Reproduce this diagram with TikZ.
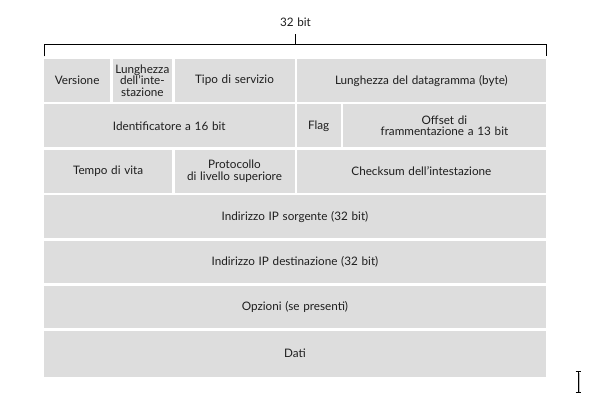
\documentclass[tikz,border=0pt]{standalone}
\usepackage{fontspec}
\setmainfont[WordSpace=1.25]{Lato}
\definecolor{fieldgray}{RGB}{221,221,221}
\definecolor{inkgray}{RGB}{30,30,30}
\tikzset{
  labelfont/.style={font=\fontsize{11.7}{11.4}\selectfont},
  field/.style={shape=rectangle, fill=fieldgray, draw=none, inner sep=0pt,
    outer sep=0pt, align=center, text=inkgray, labelfont},
  bracketline/.style={draw=black, line width=0.9pt},
  beam/.style={draw=black, line width=0.9pt},
  beamshadow/.style={draw=black!25, line width=0.9pt}
}
% \fieldbox{name}{x1}{y1}{x2}{y2}{text}: a grey header field between two corners
\newcommand\fieldbox[6]{%
  \node[field, minimum width={(#4)-(#2)}, minimum height={(#5)-(#3)}]
    (#1) at ({((#2)+(#4))/2},{((#3)+(#5))/2}) {#6};}
\begin{document}
\begin{tikzpicture}[x=1pt,y=-1pt]
\useasboundingbox[fill=white] (0,0) rectangle (591,401);

% width bracket
\coordinate (bl) at (44.5,56.5);
\coordinate (bltop) at (44.5,44.5);
\coordinate (brtop) at (546,44.5);
\coordinate (br) at (546,56.5);
\coordinate (bmid) at (295.5,44.5);
\node[labelfont, text=inkgray, inner sep=1pt] (width) at (295.5,22.5) {32 bit};
\draw[bracketline] (bl) -- (bltop) -- (brtop) -- (br);
\draw[bracketline] (bmid) -- ++(0,-10.5);

% row 1
\fieldbox{ver}{44}{59}{110.2}{102.2}{Versione}
\fieldbox{ihl}{112.5}{59}{172.2}{102.2}{Lunghezza\\dell'inte-\\stazione}
\fieldbox{tos}{174.5}{59}{294.5}{102.2}{Tipo di servizio}
\fieldbox{len}{296.8}{59}{546}{102.2}{Lunghezza del datagramma (byte)}
% row 2
\fieldbox{ident}{44}{104.5}{294.5}{147.4}{Identificatore a 16 bit}
\fieldbox{flag}{296.8}{104.5}{340.6}{147.4}{Flag}
\fieldbox{offs}{342.9}{104.5}{546}{147.4}{Offset di\\frammentazione a 13 bit}
% row 3
\fieldbox{ttl}{44}{149.8}{172.2}{192.7}{Tempo di vita}
\fieldbox{proto}{174.5}{149.8}{294.5}{192.7}{Protocollo\\di livello superiore}
\fieldbox{csum}{296.8}{149.8}{546}{192.7}{Checksum dell'intestazione}
% full-width rows
\fieldbox{src}{44}{195}{546}{238.3}{Indirizzo IP sorgente (32 bit)}
\fieldbox{dst}{44}{240.6}{546}{283.4}{Indirizzo IP destinazione (32 bit)}
\fieldbox{opt}{44}{285.7}{546}{328.4}{Opzioni (se presenti)}
\fieldbox{data}{44}{330.7}{546}{376.7}{Dati}

% text cursor
\draw[beamshadow] (579,373) -- (579,393);
\draw[beam] (578,372) -- (578,392);
\draw[beam] (575.5,371.5) -- (580.5,371.5);
\draw[beam] (575.5,392.5) -- (580.5,392.5);
\end{tikzpicture}
\end{document}
